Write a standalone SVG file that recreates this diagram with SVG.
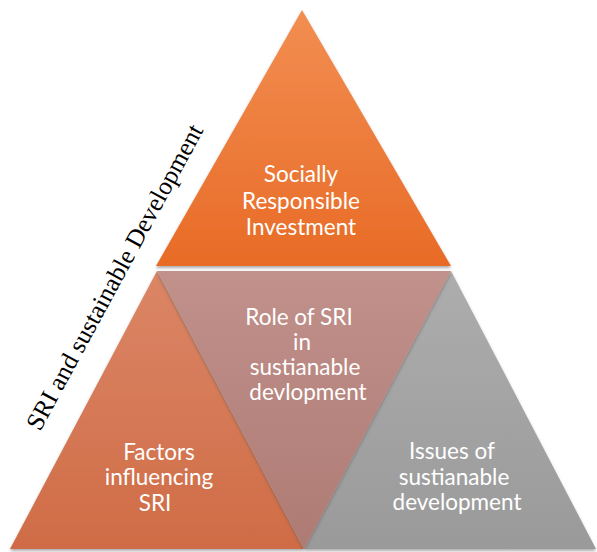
<svg xmlns="http://www.w3.org/2000/svg" width="597" height="552" viewBox="0 0 597 552">
<style>
.lbl{font-family:Lato,"Open Sans","Liberation Sans",sans-serif;font-size:22.5px;fill:#ffffff;text-anchor:middle}
.side{font-family:"Liberation Serif","Times New Roman",serif;font-size:25.3px;fill:#000000}
</style>
<defs>
<linearGradient id="gTop" x1="0" y1="0" x2="0" y2="1"><stop offset="0" stop-color="#F28E52"/><stop offset="1" stop-color="#E86B26"/></linearGradient>
<linearGradient id="gLeft" x1="0" y1="0" x2="0" y2="1"><stop offset="0" stop-color="#DC8666"/><stop offset="1" stop-color="#CF6C46"/></linearGradient>
<linearGradient id="gMid" x1="0" y1="0" x2="0" y2="1"><stop offset="0" stop-color="#C1918B"/><stop offset="1" stop-color="#AE7A74"/></linearGradient>
<linearGradient id="gRight" x1="0" y1="0" x2="0" y2="1"><stop offset="0" stop-color="#ADADAD"/><stop offset="1" stop-color="#9A9A9A"/></linearGradient>
<filter id="sh" x="-10%" y="-10%" width="120%" height="120%"><feDropShadow dx="0" dy="2" stdDeviation="1.5" flood-color="#555555" flood-opacity="0.5"/></filter>
</defs>
<g id="sri">
<polygon points="302,10 156,266 451,266" fill="url(#gTop)" filter="url(#sh)"/>
<text class="lbl" x="301" y="182">Socially</text>
<text class="lbl" x="301" y="209">Responsible</text>
<text class="lbl" x="301" y="235">Investment</text>
</g>
<g id="factors">
<polygon points="157,271 10,549 304,549" fill="url(#gLeft)" filter="url(#sh)"/>
<text class="lbl" x="159" y="460">Factors</text>
<text class="lbl" x="159" y="485">influencing</text>
<text class="lbl" x="155" y="511">SRI</text>
</g>
<g id="issues">
<polygon points="451,271 304,549 596,549" fill="url(#gRight)" filter="url(#sh)"/>
<text class="lbl" x="452" y="459">Issues of</text>
<text class="lbl" x="454" y="485">sustianable</text>
<text class="lbl" x="457" y="510">development</text>
</g>
<g id="role">
<polygon points="157,271 451,271 304,549" fill="url(#gMid)" filter="url(#sh)"/>
<text class="lbl" x="299" y="325">Role of SRI</text>
<text class="lbl" x="302" y="350">in</text>
<text class="lbl" x="305" y="375">sustianable</text>
<text class="lbl" x="308" y="400">devlopment</text>
</g>
<g id="connectors"></g>
<g id="title">
<text class="side" transform="translate(40,432) rotate(-61.5)">SRI and sustainable Development</text>
</g>
</svg>
